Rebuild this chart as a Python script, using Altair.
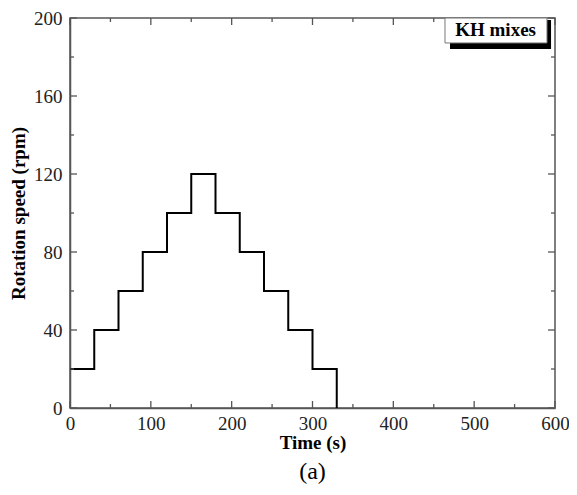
import altair as alt
import pandas as pd

# Step profile (time s, rotation speed rpm)
times = [0, 30, 60, 90, 120, 150, 180, 210, 240, 270, 300, 330]
speeds = [20, 40, 60, 80, 100, 120, 100, 80, 60, 40, 20, 0]

x_major = [0, 100, 200, 300, 400, 500, 600]
x_minor = [50, 150, 250, 350, 450, 550]
y_major = [0, 40, 80, 120, 160, 200]
y_minor = [20, 60, 100, 140, 180]

W, H = 485, 390
FONT = "Liberation Serif"
AX = "#555555"

df = pd.DataFrame({"t": times, "s": speeds})
xs = alt.Scale(domain=[0, 600], nice=False, zero=False)
ys = alt.Scale(domain=[0, 200], nice=False, zero=False)

line = alt.Chart(df).mark_line(interpolate="step-after", color="black", strokeWidth=2).encode(
    x=alt.X("t:Q", scale=xs, axis=alt.Axis(values=x_major, ticks=False, title="Time (s)",
                                          labelPadding=6, titlePadding=0, grid=False,
                                          labelFlush=False)),
    y=alt.Y("s:Q", scale=ys, axis=alt.Axis(values=y_major, ticks=False, title="Rotation speed (rpm)",
                                          labelPadding=8, titlePadding=5, grid=False,
                                          labelFlush=False)),
)

def xticks(vals, length, top):
    d = pd.DataFrame({"v": vals})
    if top:
        y1, y2 = alt.value(0), alt.value(length)
    else:
        y1, y2 = alt.value(H), alt.value(H - length)
    return alt.Chart(d).mark_rule(color=AX, strokeWidth=1.3).encode(
        x=alt.X("v:Q", scale=xs), y=y1, y2=y2)

def yticks(vals, length, right):
    d = pd.DataFrame({"v": vals})
    if right:
        x1, x2 = alt.value(W), alt.value(W - length)
    else:
        x1, x2 = alt.value(0), alt.value(length)
    return alt.Chart(d).mark_rule(color=AX, strokeWidth=1.3).encode(
        y=alt.Y("v:Q", scale=ys), x=x1, x2=x2)

ticks = [
    xticks(x_major, 7, False), xticks(x_minor, 4, False),
    xticks(x_major, 7, True), xticks(x_minor, 4, True),
    yticks(y_major, 7, False), yticks(y_minor, 4, False),
    yticks(y_major, 7, True), yticks(y_minor, 4, True),
]

# legend box with shadow
legend_label = ["KH mixes"]
box = pd.DataFrame({"x1": [463.9], "x2": [590.1], "y1": [187.2], "y2": [200.0]})
shadow = pd.DataFrame({"x1": [470.1], "x2": [595.1], "y1": [184.1], "y2": [199.0]})
shadow_rect = alt.Chart(shadow).mark_rect(color="black").encode(
    x=alt.X("x1:Q", scale=xs), x2="x2:Q", y=alt.Y("y1:Q", scale=ys), y2="y2:Q")
box_rect = alt.Chart(box).mark_rect(fill="white", stroke="#777777", strokeWidth=1).encode(
    x=alt.X("x1:Q", scale=xs), x2="x2:Q", y=alt.Y("y1:Q", scale=ys), y2="y2:Q")
label = alt.Chart(pd.DataFrame({"x": [526.5], "y": [193.8], "t": legend_label})).mark_text(
    font=FONT, fontSize=19, fontWeight="bold", color="black", align="center", baseline="middle"
).encode(x=alt.X("x:Q", scale=xs), y=alt.Y("y:Q", scale=ys), text="t:N")

chart = alt.layer(line, *ticks, shadow_rect, box_rect, label).properties(
    width=W, height=H,
    background="white",
    autosize=alt.AutoSizeParams(type="none"),
    padding={"left": 62, "top": 10, "right": 14, "bottom": 78},
    title=alt.TitleParams("(a)", orient="bottom", font=FONT, fontSize=24, fontWeight="normal",
                          color="black", anchor="middle", offset=8),
).configure_view(stroke=AX, strokeWidth=1.5).configure_axis(
    domainColor=AX, domainWidth=1.5, labelFont=FONT, labelFontSize=19, labelColor="#222222",
    titleFont=FONT, titleFontSize=19, titleFontWeight="bold", titleColor="black",
)

chart.save("out.html", embed_options={"renderer": "svg", "actions": False})
